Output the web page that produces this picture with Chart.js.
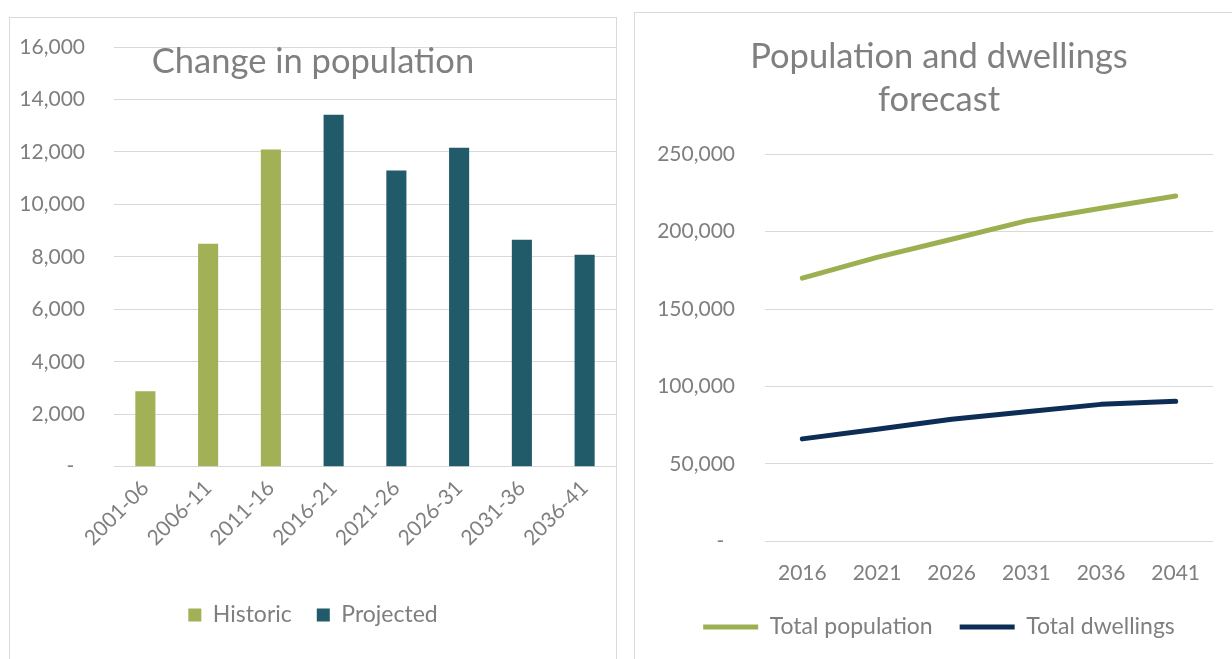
<!DOCTYPE html>
<html>
<head>
<meta charset="utf-8">
<title>Population change and forecast</title>
<script src="https://cdn.jsdelivr.net/npm/chart.js@4.4.1/dist/chart.umd.min.js"></script>
<style>
  html, body { margin: 0; padding: 0; background: #fff; overflow: hidden; }
  body { width: 1232px; height: 659px; position: relative; }
  .frame {
    position: absolute;
    box-sizing: border-box;
    border: 1px solid #d9d9d9;
    background: #fff;
  }
  .wrap { position: relative; }
</style>
</head>
<body>

<div class="frame" style="left:9px; top:17px; width:608px; height:700px;">
  <div class="wrap" style="width:606px; height:641px;"><canvas id="changeChart"></canvas></div>
</div>

<div class="frame" style="left:634px; top:12px; width:610px; height:700px;">
  <div class="wrap" style="width:608px; height:646px;"><canvas id="forecastChart"></canvas></div>
</div>

<script>
// ---- data: change in population (5-year periods) ----
const periods = ['2001-06', '2006-11', '2011-16', '2016-21', '2021-26', '2026-31', '2031-36', '2036-41'];
const historic = [2880, 8500, 12100, null, null, null, null, null];
const projected = [null, null, null, 13420, 11290, 12160, 8650, 8080];

// ---- data: population and dwellings forecast ----
const years = ['2016', '2021', '2026', '2031', '2036', '2041'];
const totalPopulation = [170000, 183400, 195100, 207000, 215200, 223100];
const totalDwellings = [66200, 72400, 78900, 83800, 88500, 90500];

const GREEN = '#a2b155';
const TEAL = '#215a69';
const LINE_GREEN = '#9cb052';
const NAVY = '#0d2d57';
const GRID = '#d9d9d9';
const TEXT = '#7f7f7f';

Chart.defaults.font.family = 'Lato, "Open Sans", sans-serif';
Chart.defaults.font.size = 21;
Chart.defaults.color = TEXT;
Chart.defaults.animation = false;

// Excel-style accounting labels: zero shown as a dash
const fmt = v => v === 0 ? '-  ' : v.toLocaleString('en-US');

// fixed axis width; keep the tick padding from pushing the plot down
const yFit = w => s => {
  s.width = w;
  s.paddingTop = 13;
  s.paddingBottom = 13;
};

const titleFont = { size: 34.5, weight: 'normal', lineHeight: 1.255 };

// ===============================
// Left: bar chart
// ===============================
new Chart(document.getElementById('changeChart'), {
  type: 'bar',
  data: {
    labels: periods,
    datasets: [
      { label: 'Historic', data: historic, backgroundColor: GREEN },
      { label: 'Projected', data: projected, backgroundColor: TEAL }
    ]
  },
  options: {
    responsive: true,
    maintainAspectRatio: false,
    layout: { padding: { left: 0, right: 0, top: 0, bottom: 22.5 } },
    datasets: { bar: { categoryPercentage: 1, barPercentage: 0.32 } },
    plugins: {
      title: {
        display: true,
        text: 'Change in population',
        color: '#808080',
        font: titleFont,
        padding: { top: 22.4, bottom: -36.6 }
      },
      legend: {
        position: 'bottom',
        labels: { boxWidth: 13, boxHeight: 13, padding: 25, color: TEXT, font: { size: 23 } }
      },
      tooltip: { enabled: false }
    },
    scales: {
      x: {
        stacked: true,
        grid: { display: false, drawTicks: false },
        border: { display: false },
        ticks: { minRotation: 45, maxRotation: 45, padding: 9, color: TEXT },
        afterFit: s => { s.height = 111.8; }
      },
      y: {
        stacked: true,
        min: 0,
        max: 16000,
        grid: { color: GRID, lineWidth: 1, drawTicks: false },
        border: { display: false },
        ticks: { stepSize: 2000, padding: 29, color: TEXT, callback: fmt },
        afterFit: yFit(104)
      }
    }
  }
});

// ===============================
// Right: line chart
// ===============================
new Chart(document.getElementById('forecastChart'), {
  type: 'line',
  data: {
    labels: years,
    datasets: [
      {
        label: 'Total population',
        data: totalPopulation,
        borderColor: LINE_GREEN,
        backgroundColor: LINE_GREEN,
        borderWidth: 5,
        borderCapStyle: 'round',
        borderJoinStyle: 'round',
        pointRadius: 0,
        tension: 0
      },
      {
        label: 'Total dwellings',
        data: totalDwellings,
        borderColor: NAVY,
        backgroundColor: NAVY,
        borderWidth: 5,
        borderCapStyle: 'round',
        borderJoinStyle: 'round',
        pointRadius: 0,
        tension: 0
      }
    ]
  },
  options: {
    responsive: true,
    maintainAspectRatio: false,
    layout: { padding: { left: 0, right: 0, top: 0, bottom: 10.5 } },
    plugins: {
      title: {
        display: true,
        text: ['Population and dwellings', 'forecast'],
        color: '#808080',
        font: titleFont,
        padding: { top: 22.4, bottom: 32.3 }
      },
      legend: {
        position: 'bottom',
        labels: {
          usePointStyle: true,
          pointStyle: 'line',
          pointStyleWidth: 55,
          padding: 27,
          color: TEXT,
          font: { size: 23 }
        }
      },
      tooltip: { enabled: false }
    },
    scales: {
      x: {
        offset: true,
        grid: { display: false, drawTicks: false },
        border: { display: false },
        ticks: { padding: 19, color: TEXT, maxRotation: 0 },
        afterFit: s => { s.height = 47.1; }
      },
      y: {
        min: 0,
        max: 250000,
        grid: { color: GRID, lineWidth: 1, drawTicks: false },
        border: { display: false },
        ticks: { stepSize: 50000, padding: 30, color: TEXT, callback: fmt },
        afterFit: yFit(130)
      },
      // empty strip on the right so the plot stops short of the frame
      // while the title and legend stay centred on the whole chart
      gap: {
        type: 'linear',
        position: 'right',
        grid: { display: false, drawTicks: false },
        border: { display: false },
        ticks: { display: false },
        afterFit: s => { s.width = 30; }
      }
    }
  }
});
</script>
</body>
</html>
